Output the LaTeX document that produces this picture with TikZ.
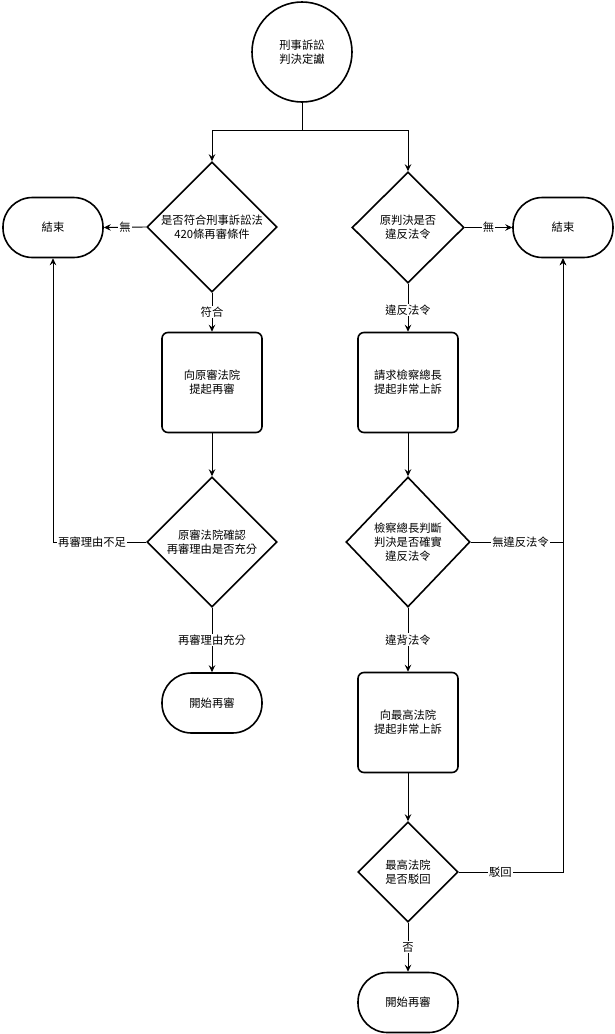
\documentclass[tikz,border=0pt]{standalone}
\usepackage{fontspec}
\setmainfont{Noto Sans CJK TC}
\usetikzlibrary{shapes.geometric,arrows.meta}
\begin{document}
\begin{tikzpicture}[x=1pt,y=-1pt,
  font=\fontsize{11.3}{14}\selectfont,
  box/.style={draw,line width=1.6pt,rounded corners=6pt,minimum width=100pt,minimum height=100pt,align=center,inner sep=0pt},
  term/.style={draw,line width=1.6pt,rounded corners=29.5pt,minimum width=100pt,minimum height=60pt,align=center,inner sep=0pt},
  dec/.style={draw,line width=1.6pt,diamond,align=center,inner sep=0pt},
  arr/.style={line width=0.9pt,-{Stealth[length=7pt,width=6.5pt,inset=2.5pt]}},
  conn/.style={line width=0.9pt},
  lab/.style={fill=white,inner sep=1pt,font=\fontsize{11.3}{14}\selectfont}]
\useasboundingbox (0,0) rectangle (614,1034);
\node[draw,line width=1.6pt,circle,minimum size=100pt,align=center,inner sep=0pt] (start) at (302,52) {刑事訴訟\\判決定讞};
\node[dec,minimum width=130pt,minimum height=130pt] (d1) at (212,227) {是否符合刑事訴訟法\\420條再審條件};
\node[dec,minimum width=112pt,minimum height=111pt] (d2) at (408,227.5) {原判決是否\\違反法令};
\node[term] (end1) at (53,227.5) {結束};
\node[term] (end2) at (563,227.5) {結束};
\node[box] (r1) at (212,382.5) {向原審法院\\提起再審};
\node[box] (r2) at (408,382.5) {請求檢察總長\\提起非常上訴};
\node[dec,minimum width=130pt,minimum height=130pt] (d3) at (212,542) {原審法院確認\\再審理由是否充分};
\node[dec,minimum width=124pt,minimum height=130pt] (d4) at (408,542) {檢察總長判斷\\判決是否確實\\違反法令};
\node[term] (s1) at (212,703) {開始再審};
\node[box] (r3) at (408,722.5) {向最高法院\\提起非常上訴};
\node[dec,minimum width=100pt,minimum height=100pt] (d5) at (408,872) {最高法院\\是否駁回};
\node[term] (s2) at (408,1002.5) {開始再審};
\coordinate (split) at (302,130);
\draw[conn] (start.south) -- (split);
\draw[arr] (split) -| (d1.north);
\draw[arr] (split) -| (d2.north);
\draw[arr] (d1.west) -- node[lab] (l1) {無} (end1.east);
\draw[arr] (d2.east) -- node[lab] (l2) {無} (end2.west);
\draw[arr] (d1.south) -- node[lab] (l3) {符合} (r1.north);
\draw[arr] (d2.south) -- node[lab,pos=0.55] (l4) {違反法令} (r2.north);
\draw[arr] (r1.south) -- (d3.north);
\draw[arr] (r2.south) -- (d4.north);
\draw[arr] (d3.west) -| node[lab,pos=0.29] (l5) {再審理由不足} (end1.south);
\draw[arr] (d3.south) -- node[lab] (l6) {再審理由充分} (s1.north);
\draw[arr] (d4.east) -| node[lab,pos=0.27] (l7) {無違反法令} (end2.south);
\draw[arr] (d4.south) -- node[lab] (l8) {違背法令} (r3.north);
\draw[arr] (r3.south) -- (d5.north);
\draw[arr] (d5.east) -| node[lab,pos=0.2] (l9) {駁回} (end2.south);
\draw[arr] (d5.south) -- node[lab] (l10) {否} (s2.north);
\end{tikzpicture}
\end{document}
